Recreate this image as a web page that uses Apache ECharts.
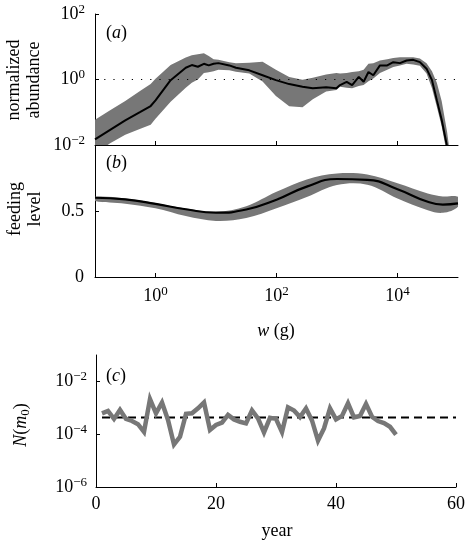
<!DOCTYPE html>
<html><head><meta charset="utf-8">
<script src="https://cdn.jsdelivr.net/npm/echarts@6/dist/echarts.min.js"></script>
<style>html,body{margin:0;padding:0;background:#fff}#c{width:468px;height:541px}</style>
</head><body><div id="c"></div>
<script>
// ---------- Panel (a): normalized abundance vs body mass (log10 units) ----------
const aLogW  = [-1.0,-0.75,-0.5,-0.25,-0.08,0,0.25,0.5,0.6,0.7,0.8,0.88,0.96,1.04,1.22,1.33,1.55,1.77,1.99,2.21,2.43,2.6,2.82,2.99,3.05,3.16,3.25,3.36,3.44,3.52,3.6,3.71,3.83,3.93,4.04,4.15,4.26,4.37,4.48,4.57,4.65,4.73,4.82,4.87];
const aLine  = [-1.83,-1.54,-1.25,-0.99,-0.81,-0.64,-0.02,0.36,0.44,0.39,0.48,0.43,0.48,0.50,0.43,0.36,0.28,0.13,-0.02,-0.14,-0.22,-0.27,-0.24,-0.27,-0.17,-0.07,-0.17,0.08,-0.07,0.23,0.13,0.43,0.43,0.53,0.50,0.58,0.60,0.53,0.33,-0.02,-0.63,-1.23,-2.05,-2.6];
const aUpper = [-1.23,-0.94,-0.66,-0.34,-0.14,0.02,0.44,0.67,0.74,0.77,0.80,0.72,0.62,0.60,0.53,0.50,0.51,0.54,0.30,0.08,-0.01,0.05,0.15,0.20,0.18,0.20,0.23,0.25,0.30,0.48,0.50,0.58,0.62,0.66,0.68,0.68,0.68,0.64,0.50,0.25,-0.10,-0.66,-1.6,-2.3];
const aLower = [-2.25,-1.95,-1.69,-1.50,-1.38,-1.2,-0.68,-0.25,-0.10,0.0,0.20,0.22,0.25,0.30,0.28,0.24,0.18,-0.06,-0.50,-0.82,-0.85,-0.60,-0.37,-0.32,-0.22,-0.25,-0.27,-0.20,-0.17,-0.05,0.03,0.20,0.30,0.38,0.43,0.48,0.46,0.42,0.18,-0.27,-0.83,-1.43,-2.3,-2.7];
const aRefLog = 0;            // abundance = 10^0
const aYTicks = [-2, 0, 2];   // 10^-2, 10^0, 10^2

// ---------- Panel (b): feeding level ----------
const bLogW  = [-1,-0.5,0,0.5,1,1.5,2,2.5,3,3.5,4,4.5,4.75,5];
const bLine  = [0.605,0.592,0.558,0.517,0.491,0.515,0.59,0.69,0.748,0.742,0.67,0.574,0.553,0.562];
const bUpper = [0.612,0.60,0.565,0.522,0.497,0.54,0.65,0.745,0.79,0.782,0.715,0.638,0.615,0.612];
const bLower = [0.58,0.56,0.524,0.465,0.428,0.45,0.525,0.61,0.702,0.705,0.60,0.51,0.49,0.537];
const wTicks = [0, 2, 4];     // 10^0, 10^2, 10^4 g
const bYTicks = [0, 0.5];

// ---------- Panel (c): N(m0) per year (log10 units) ----------
const cYears = [1,2,3,4,5,6,7,8,9,10,11,12,13,14,15,16,17,18,19,20,21,22,23,24,25,26,27,28,29,30,31,32,33,34,35,36,37,38,39,40,41,42,43,44,45,46,47,48,49,50];
const cLogN  = [-3.21,-3.12,-3.42,-3.08,-3.42,-3.50,-3.62,-3.91,-2.67,-3.21,-2.80,-3.46,-4.39,-4.10,-3.23,-3.21,-3.02,-2.80,-3.84,-3.65,-3.56,-3.27,-3.44,-3.53,-3.59,-3.10,-3.40,-3.93,-3.38,-3.42,-3.92,-2.98,-3.10,-3.35,-3.02,-3.48,-4.24,-3.78,-3.02,-3.44,-3.31,-2.83,-3.36,-3.31,-2.85,-3.34,-3.50,-3.58,-3.72,-4.02];
const cRefLogN = -3.37;
const cRefYears = [1, 60];
const cYTicks = [-6, -4, -2];
const cXTicks = [0, 20, 40, 60];

const F = '"Liberation Serif","Times New Roman",serif';
const GRAY = '#777777';
const pairs = (xs, ys) => xs.map((x, i) => [x, ys[i]]);
const pow10 = v => { const n = Math.round(v); return '{b|10}{s|' + (n < 0 ? '\u2212' + (-n) : n) + '}'; };
const rich = {
  b: {fontFamily: F, fontSize: 18, lineHeight: 22, color: '#000'},
  s: {fontFamily: F, fontSize: 13, lineHeight: 8, verticalAlign: 'top', color: '#000'}
};
const axLine = {show: true, onZero: false, lineStyle: {color: '#000', width: 1}};
const tick = vals => ({show: true, inside: true, length: 4, lineStyle: {color: '#000', width: 1}, customValues: vals});

function band(xIdx, yIdx, xs, hi, lo, smooth) {
  return {
    type: 'custom', xAxisIndex: xIdx, yAxisIndex: yIdx, clip: true, silent: true,
    data: xs.map((x, i) => [x, hi[i], lo[i]]),
    encode: {x: 0, y: [1, 2]},
    renderItem: (params, api) => {
      if (params.dataIndex !== 0) return null;
      const pts = [];
      for (let i = 0; i < xs.length; i++) pts.push(api.coord([xs[i], hi[i]]));
      for (let i = xs.length - 1; i >= 0; i--) pts.push(api.coord([xs[i], lo[i]]));
      return {type: 'polygon', shape: {points: pts, smooth: smooth}, style: {fill: GRAY, stroke: null}};
    }
  };
}
const letter = (ch, x, y) => ({type: 'text', x: x, y: y, style: {text: '{p|(}{i|' + ch + '}{p|)}', align: 'left', verticalAlign: 'middle',
  rich: {p: {fontFamily: F, fontSize: 18, fill: '#000'}, i: {fontFamily: F, fontSize: 18, fontStyle: 'italic', fill: '#000'}}}});

const chart = echarts.init(document.getElementById('c'), null, {renderer: 'canvas'});
chart.setOption({
  animation: false,
  backgroundColor: '#fff',
  grid: [
    {left: 95, top: 14, width: 363, height: 131},
    {left: 95, top: 146, width: 363, height: 131},
    {left: 96, top: 355, width: 362, height: 132}
  ],
  xAxis: [
    {gridIndex: 0, type: 'value', min: -1, max: 5, axisLine: axLine, axisTick: tick(wTicks),
     axisLabel: {show: false}, splitLine: {show: false}},
    {gridIndex: 1, type: 'value', min: -1, max: 5, axisLine: axLine, axisTick: tick(wTicks),
     axisLabel: {show: true, customValues: wTicks, formatter: pow10, rich: rich, margin: 8}, splitLine: {show: false}},
    {gridIndex: 2, type: 'value', min: 0, max: 60, interval: 20, axisLine: axLine, axisTick: tick(cXTicks),
     axisLabel: {show: true, customValues: cXTicks, fontFamily: F, fontSize: 18, lineHeight: 22, color: '#000', margin: 6}, splitLine: {show: false}}
  ],
  yAxis: [
    {gridIndex: 0, type: 'value', min: -2, max: 2, interval: 2, axisLine: axLine, axisTick: tick(aYTicks),
     axisLabel: {customValues: aYTicks, formatter: pow10, rich: rich, margin: 10}, splitLine: {show: false}},
    {gridIndex: 1, type: 'value', min: 0, max: 1, interval: 0.5, axisLine: axLine, axisTick: tick([0.5]),
     axisLabel: {customValues: bYTicks, fontFamily: F, fontSize: 18, lineHeight: 22, color: '#000', margin: 11}, splitLine: {show: false}},
    {gridIndex: 2, type: 'value', min: -6, max: -1, axisLine: axLine, axisTick: tick(cYTicks),
     axisLabel: {customValues: cYTicks, formatter: pow10, rich: rich, margin: 9}, splitLine: {show: false}}
  ],
  series: [
    band(0, 0, aLogW, aUpper, aLower, 0),
    {type: 'line', xAxisIndex: 0, yAxisIndex: 0, data: pairs(aLogW, aLine), symbol: 'none',
     lineStyle: {color: '#000', width: 2}, silent: true,
     markLine: {silent: true, symbol: 'none', label: {show: false},
       lineStyle: {color: '#000', width: 1.2, type: [1.2, 8]}, data: [{yAxis: aRefLog}]}},
    band(1, 1, bLogW, bUpper, bLower, 0.35),
    {type: 'line', xAxisIndex: 1, yAxisIndex: 1, data: pairs(bLogW, bLine), smooth: true, symbol: 'none',
     lineStyle: {color: '#000', width: 2.2}, silent: true},
    {type: 'line', xAxisIndex: 2, yAxisIndex: 2, data: cRefYears.map(x => [x, cRefLogN]), symbol: 'none',
     lineStyle: {color: '#000', width: 2, type: [8, 5]}, silent: true},
    {type: 'line', xAxisIndex: 2, yAxisIndex: 2, data: pairs(cYears, cLogN), symbol: 'none',
     lineStyle: {color: GRAY, width: 4.5, join: 'miter'}, silent: true}
  ],
  graphic: [
    letter('a', 106, 33), letter('b', 106, 163), letter('c', 106, 376),
    {type: 'text', x: 24.5, y: 80, rotation: Math.PI / 2, style: {text: 'normalized\nabundance', fontFamily: F, fontSize: 18,
      lineHeight: 19.5, align: 'center', verticalAlign: 'middle', fill: '#000'}},
    {type: 'text', x: 25, y: 209, rotation: Math.PI / 2, style: {text: 'feeding\nlevel', fontFamily: F, fontSize: 18,
      lineHeight: 20, align: 'center', verticalAlign: 'middle', fill: '#000'}},
    {type: 'text', x: 21, y: 425, rotation: Math.PI / 2, style: {text: '{i|N}{p|(}{i|m}{u|0}{p|)}', align: 'center', verticalAlign: 'middle',
      rich: {p: {fontFamily: F, fontSize: 18, lineHeight: 22, fill: '#000'}, i: {fontFamily: F, fontSize: 18, lineHeight: 22, fontStyle: 'italic', fill: '#000'},
             u: {fontFamily: F, fontSize: 13, lineHeight: 8, verticalAlign: 'bottom', fill: '#000'}}}},
    {type: 'text', x: 276, y: 331, style: {text: '{i|w}{p| (g)}', align: 'center', verticalAlign: 'middle',
      rich: {p: {fontFamily: F, fontSize: 18, fill: '#000'}, i: {fontFamily: F, fontSize: 18, fontStyle: 'italic', fill: '#000'}}}},
    {type: 'text', x: 277, y: 531, style: {text: 'year', fontFamily: F, fontSize: 18, align: 'center', verticalAlign: 'middle', fill: '#000'}}
  ]
});
</script></body></html>
